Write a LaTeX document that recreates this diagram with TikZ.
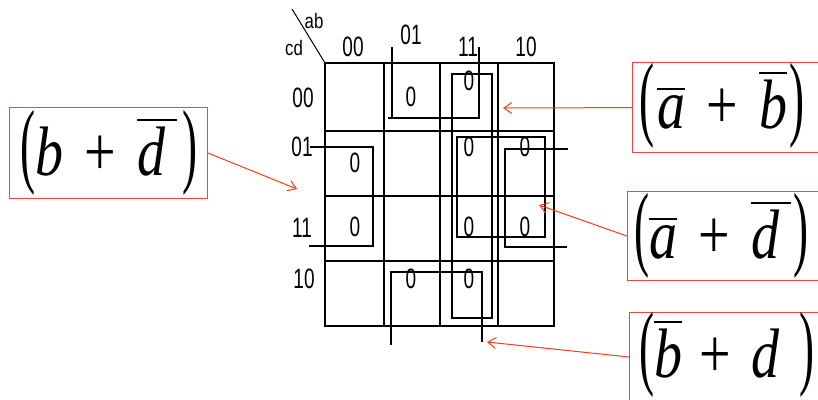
\documentclass[tikz,border=0pt]{standalone}
\usepackage{fontspec}
\usepackage{graphicx}
\usetikzlibrary{arrows.meta}
\setmainfont{Liberation Serif}
\newfontfamily\gridfont{Liberation Sans}
\definecolor{arrred}{RGB}{255,60,20}
\definecolor{boxred}{RGB}{240,70,55}
\newcommand{\ovl}[1]{\vbox{\hrule height 2.2pt\kern 5pt\hbox{#1}}}
\newcommand{\lpar}{{\fontsize{94}{94}\selectfont\scalebox{0.6}[1]{(}}}
\newcommand{\rpar}{{\fontsize{94}{94}\selectfont\scalebox{0.6}[1]{)}}}
\newcommand{\gap}[1]{\hspace{#1em}}
\newcommand{\frm}[1]{\scalebox{0.8}[1]{\fontsize{70}{70}\selectfont #1}}
\newcommand{\gl}[1]{\scalebox{0.68}[1]{\fontsize{28}{28}\selectfont\gridfont #1}}
\newcommand{\gs}[1]{\scalebox{0.8}[1]{\fontsize{21}{21}\selectfont\gridfont #1}}
\tikzset{
  grid/.style={line width=1.6pt, black},
  loopline/.style={line width=1.5pt, black},
  lab/.style={inner sep=0pt, anchor=center},
  fbox/.style={draw=boxred, line width=1.2pt, anchor=north west, inner sep=0pt},
  frmnode/.style={inner sep=0pt, anchor=base west},
  redarrow/.style={draw=arrred, line width=1pt, -{Straight Barb[length=8pt,width=11pt]}}
}
\begin{document}
\begin{tikzpicture}[x=1pt,y=-1pt]
\useasboundingbox (0,0) rectangle (818,399);
\clip (0,0) rectangle (818,399);
% K-map grid
\draw[grid] (325,63) rectangle (554,326);
\foreach \xx in {384,440,498} \draw[grid] (\xx,63) -- (\xx,326);
\foreach \yy in {131,196,261} \draw[grid] (325,\yy) -- (554,\yy);
\draw[line width=1pt] (292,9) -- (325,63);
% headers
\node[lab] (hab) at (314,21) {\gs{ab}};
\node[lab] (hcd) at (294,48) {\gs{cd}};
\node[lab] (c00) at (353,47) {\gl{00}};
\node[lab] (c01) at (411,35) {\gl{01}};
\node[lab] (c11) at (468,47) {\gl{11}};
\node[lab] (c10) at (526,47) {\gl{10}};
\node[lab] (r00) at (303,98) {\gl{00}};
\node[lab] (r01) at (302,147) {\gl{01}};
\node[lab] (r11) at (302,228) {\gl{11}};
\node[lab] (r10) at (304,279) {\gl{10}};
% zeros
\node[lab] (z1) at (411,97) {\gl{0}};
\node[lab] (z2) at (469,81) {\gl{0}};
\node[lab] (z3) at (355,163) {\gl{0}};
\node[lab] (z4) at (469,147) {\gl{0}};
\node[lab] (z5) at (525,147) {\gl{0}};
\node[lab] (z6) at (355,227) {\gl{0}};
\node[lab] (z7) at (469,227) {\gl{0}};
\node[lab] (z8) at (525,227) {\gl{0}};
\node[lab] (z9) at (411,279) {\gl{0}};
\node[lab] (z10) at (469,279) {\gl{0}};
% loops
\draw[loopline] (392,47) -- (392,118) -- (479,118) -- (479,47);
\draw[loopline] (388,118) -- (392,118);
\draw[loopline] (391,345) -- (391,272) -- (482,272) -- (482,342);
\draw[loopline] (452,74) rectangle (492,318);
\draw[loopline] (457,137) rectangle (545,237);
\draw[loopline] (568,149) -- (505,149) -- (505,247) -- (567,247);
\draw[loopline] (310,147) -- (373,147) -- (373,246) -- (309,246);
% formula boxes
\node[fbox, minimum width=198pt, minimum height=91pt] (B1) at (9,107) {};
\node[fbox, minimum width=200pt, minimum height=90pt] (B2) at (632,62) {};
\node[fbox, minimum width=200pt, minimum height=89pt] (B3) at (627,191) {};
\node[fbox, minimum width=200pt, minimum height=100pt] (B4) at (629,312) {};
\node[frmnode] (F1) at (20,175) {\frm{\lpar\textit{b}\gap{0.38}+\gap{0.38}\ovl{\textit{d}\gap{0.2}}\gap{0.1}\rpar}};
\node[frmnode] (F2) at (639,128) {\frm{\lpar\gap{0.05}\ovl{\textit{a}}\gap{0.38}+\gap{0.38}\ovl{\textit{b}}\gap{0.05}\rpar}};
\node[frmnode] (F3) at (634,258) {\frm{\lpar\ovl{\textit{a}}\gap{0.38}+\gap{0.38}\ovl{\textit{d}\gap{0.2}}\gap{0.05}\rpar}};
\node[frmnode] (F4) at (639,377) {\frm{\lpar\ovl{\textit{b}}\gap{0.3}+\gap{0.38}\textit{d}\gap{0.35}\rpar}};
% arrow targets
\coordinate (T1) at (297,189);
\coordinate (T2) at (503,108);
\coordinate (T3) at (539,205);
\coordinate (T4) at (487,342);
\draw[redarrow] (B1.east) -- (T1);
\draw[redarrow] (B2.west) -- (T2);
\draw[redarrow] (B3.west) -- (T3);
\draw[redarrow] (B4.west |- 0,357) -- (T4);
\end{tikzpicture}
\end{document}
